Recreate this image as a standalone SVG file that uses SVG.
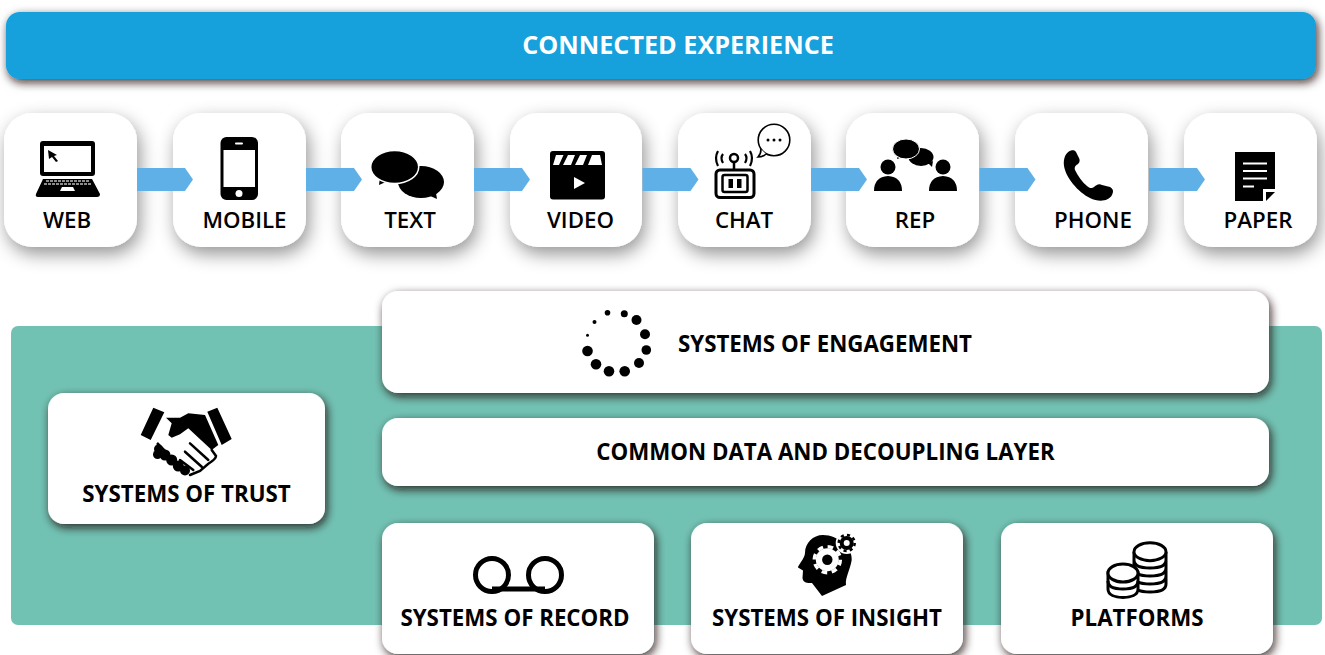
<svg xmlns="http://www.w3.org/2000/svg" width="1325" height="655" viewBox="0 0 1325 655">
<style>
text{font-family:"Open Sans","Liberation Sans",sans-serif;fill:#000;text-anchor:middle}
.c{font-size:22.300px;font-weight:600}
.b{font-size:22.300px;font-weight:700}
.card{fill:#fff;filter:url(#soft)}
.box{fill:#fff;filter:url(#hard)}
.arrow{fill:#60b0e8}
.w{fill:#fff}
.k{fill:#000}
.ln{fill:none;stroke:#000}
.wl{fill:none;stroke:#fff}
</style>
<defs>
<filter id="soft" x="-30%" y="-30%" width="160%" height="170%"><feDropShadow dx="3" dy="7" stdDeviation="9" flood-color="#000" flood-opacity=".42"/></filter>
<filter id="hard" x="-10%" y="-30%" width="120%" height="170%"><feDropShadow dx="2" dy="3.500" stdDeviation="5" flood-color="#1c1010" flood-opacity=".85"/></filter>
<polygon id="arw" points="0,0 48,0 56,11.500 48,23 0,23"/>
</defs>
<rect width="1325" height="655" fill="#fff"/>
<g id="top-bar"><rect class="box" x="6" y="12" width="1310" height="67" rx="14" style="fill:#12a1dc"/><text x="678" y="54" class="b" style="fill:#fff;font-size:25.200px">CONNECTED EXPERIENCE</text></g>
<rect id="panel" x="11" y="326" width="1311" height="299" rx="7" fill="#72c2b3"/>
<g id="web"><rect class="card" x="4" y="113" width="133" height="134" rx="28"/>
<rect class="k" x="40" y="141" width="55" height="35" rx="3"/><rect class="w" x="44" y="146" width="47" height="26"/>
<path class="k" d="M48 150l9 5-3 1 4 5-2 1-4-5-3 2z"/>
<path class="k" d="M43 179H92L100 194Q100 197 97 197H38Q35 197 36 194Z"/>
<path d="M46 181H90M44 184H91" stroke="#bbb" stroke-width="1.500" stroke-dasharray="3 1"/><path class="w" d="M62 187H73L75 191H60Z"/>
<text x="67" y="228" class="c">WEB</text></g>
<g id="mobile"><rect class="card" x="173" y="113" width="133" height="134" rx="28"/>
<rect class="k" x="220.500" y="137" width="37.500" height="63" rx="6"/><rect class="w" x="223.500" y="150" width="31.500" height="37"/><rect class="w" x="235" y="142.500" width="8" height="2" rx="1"/><circle class="w" cx="239" cy="193.500" r="3.500"/>
<text x="244.500" y="228" class="c">MOBILE</text></g>
<g id="text"><rect class="card" x="341" y="113" width="133" height="134" rx="28"/>
<ellipse class="k" cx="421" cy="182" rx="23" ry="16"/><path class="k" d="M428 195l9 4-1-6z"/>
<path class="k" d="M380 177l-1 8 9-4z"/>
<ellipse class="k" cx="394.700" cy="167" rx="24" ry="16.500" stroke="#fff" stroke-width="1.500"/>
<text x="410" y="228" class="c">TEXT</text></g>
<g id="video"><rect class="card" x="510" y="113" width="132" height="134" rx="28"/>
<rect class="k" x="550" y="151" width="55" height="48.500" rx="3"/>
<path class="w" d="M556 155H563.500L559 165H553ZM568 155H575L571 165H563ZM580 155H587L583 165H575ZM592 155H600L602 165H588Z"/>
<path class="w" d="M574 177L585 183L574 189Z"/>
<text x="580.500" y="228" class="c">VIDEO</text></g>
<g id="chat"><rect class="card" x="678" y="113" width="133" height="134" rx="28"/>
<rect class="ln" x="716" y="170" width="38" height="27.500" rx="4" stroke-width="3"/><rect class="ln" x="722.500" y="175" width="25" height="17" rx="2" stroke-width="2.500"/>
<rect class="k" x="728.500" y="179" width="4.500" height="9"/><rect class="k" x="737" y="179" width="4.500" height="9"/>
<circle class="ln" cx="734" cy="158" r="4" stroke-width="2.500"/><path class="ln" stroke-width="2.500" d="M734 162V170"/>
<path class="ln" stroke-width="2.200" d="M723 154Q720 158 723 163M718 151Q714 158 718 166M745 154Q748 158 745 163M750 151Q754 158 750 166"/>
<circle class="ln" cx="774" cy="140" r="15.800" stroke-width="1.600"/>
<path stroke="#000" stroke-width="1.600" fill="#fff" d="M761 149Q761 154 758 157Q763 157 766 154"/>
<circle class="k" cx="768" cy="140" r="1.500"/><circle class="k" cx="774" cy="140" r="1.500"/><circle class="k" cx="780" cy="140" r="1.500"/>
<text x="744" y="228" class="c">CHAT</text></g>
<g id="rep"><rect class="card" x="846" y="113" width="133" height="134" rx="28"/>
<circle class="k" cx="888" cy="167" r="7.500"/><path class="k" d="M874 191Q874 177 888 176Q902 177 902 191Z"/>
<circle class="k" cx="943" cy="167" r="7.500"/><path class="k" d="M929 191Q929 177 943 176Q957 177 957 191Z"/>
<ellipse class="k" cx="921" cy="157" rx="12.500" ry="9"/><path class="k" d="M928 163l4 4 1-6z"/><path class="k" d="M898 155l-1 4 6-2z"/>
<ellipse class="k" cx="906" cy="149" rx="13.500" ry="10" stroke="#fff" stroke-width="1"/>
<text x="915" y="228" class="c">REP</text></g>
<g id="phone"><rect class="card" x="1015" y="113" width="133" height="134" rx="28"/>
<path class="k" d="M1071 150.500C1066 152 1063 158 1064 166C1066 178 1078 192 1090 198C1098 202 1108 202 1112 195C1114 191 1113 189 1110 187L1102 185C1099 183 1096 185 1094 187C1092 189 1089 188 1087 186C1082 182 1078 176 1075 170C1074 167 1076 165 1078 164C1080 162 1080 160 1079 158L1076 152C1075 150 1073 150 1071 150.500Z"/>
<text x="1093" y="228" class="c">PHONE</text></g>
<g id="paper"><rect class="card" x="1184" y="113" width="133" height="134" rx="28"/>
<path class="k" d="M1235 152H1275V189H1263V201H1235Z"/><path class="k" d="M1266 192H1275L1266 201Z"/>
<path class="wl" stroke-width="2" d="M1243 163.500H1267M1243 171H1267M1243 178.500H1267M1243 186.500H1254"/>
<text x="1258" y="228" class="c">PAPER</text></g>
<g id="connectors" class="arrow">
<use href="#arw" x="137" y="168"/><use href="#arw" x="306" y="168"/><use href="#arw" x="474" y="168"/><use href="#arw" x="642.500" y="168"/><use href="#arw" x="811" y="168"/><use href="#arw" x="979.500" y="168"/><use href="#arw" x="1149" y="168"/>
</g>
<g id="engagement"><rect class="box" x="382" y="291" width="887" height="102" rx="16"/>
<g class="k"><circle cx="587.500" cy="335.300" r="1.500"/><circle cx="594.500" cy="322" r="2"/><circle cx="607.500" cy="312.700" r="2.800"/><circle cx="624.300" cy="313.700" r="3.500"/><circle cx="636.500" cy="320" r="5"/><circle cx="645" cy="334.300" r="5"/><circle cx="646.300" cy="350" r="4.800"/><circle cx="639" cy="363" r="5"/><circle cx="624.700" cy="371.300" r="5.300"/><circle cx="609" cy="371.300" r="5.300"/><circle cx="596" cy="364.300" r="5.300"/><circle cx="587.500" cy="351" r="5.300"/></g>
<text x="825" y="351.500" class="b">SYSTEMS OF ENGAGEMENT</text></g>
<g id="common-data"><rect class="box" x="382" y="418" width="887" height="68" rx="16"/>
<text x="825.500" y="459.500" class="b">COMMON DATA AND DECOUPLING LAYER</text></g>
<g id="trust"><rect class="box" x="48" y="393" width="277" height="131" rx="16"/>
<path class="k" d="M153.300 407.700L164.300 412.300L150.700 440L140.700 435ZM217.300 407.700L207.300 411.700L221.700 445L231.700 439Z"/>
<path class="k" d="M166 417.700H180L188.300 413.300L205 415L218.300 445L211.700 450L188.300 428.300L180 434.300L171.700 437.700L168.300 435L171.700 423.300Z"/>
<path class="ln" stroke-width="2.500" stroke-linecap="round" d="M211.700 450L216 456Q216 459 208 464L200 471L190 475M190 443.300L208.300 460M185 451.700L201.700 466.700M180 460L193.300 470"/>
<path class="ln" stroke-width="2.500" d="M157 443L166 452"/>
<g class="k"><circle cx="158.500" cy="449" r="4.500"/><circle cx="157.500" cy="454.500" r="4.500"/><circle cx="165" cy="455" r="5.500"/><circle cx="171.700" cy="460" r="5.500"/><circle cx="178.300" cy="466" r="5.500"/><circle cx="185" cy="470.500" r="5"/></g>
<text x="186.500" y="501.500" class="b">SYSTEMS OF TRUST</text></g>
<g id="record"><rect class="box" x="382" y="523" width="272" height="131" rx="16"/>
<circle class="ln" cx="492" cy="575" r="16.500" stroke-width="5"/><circle class="ln" cx="545" cy="575" r="16.500" stroke-width="5"/><path class="ln" stroke-width="5" d="M492 589H545"/>
<text x="515" y="625.500" class="b">SYSTEMS OF RECORD</text></g>
<g id="insight"><rect class="box" x="691" y="523" width="272" height="131" rx="16"/>
<path class="k" d="M823 535C813 535 805 543 805 553C805 558 798 565 798 567.500L803 570.500L802.500 578C803 582.500 807 583.500 812 583L822 596L846 585C845 578 850 570 851.700 560C853 548 838 535 823 535Z"/>
<circle cx="827.300" cy="559.700" r="11.500" fill="#fff"/><circle cx="827.300" cy="559.700" r="13" fill="none" stroke="#fff" stroke-width="3.500" stroke-dasharray="5.600 4.600"/><circle cx="827.300" cy="559.700" r="5.200" fill="#000"/>
<circle cx="846.700" cy="543" r="11" fill="#fff"/><circle cx="846.700" cy="543" r="5" fill="none" stroke="#000" stroke-width="4"/><circle cx="846.700" cy="543" r="8" fill="none" stroke="#000" stroke-width="2.500" stroke-dasharray="3.140 3.140"/>
<text x="827" y="625.500" class="b">SYSTEMS OF INSIGHT</text></g>
<g id="platforms"><rect class="box" x="1001" y="523" width="272" height="131" rx="16"/>
<path class="ln" stroke-width="3" d="M1134 552V584C1134 590 1142 592 1150 592C1158 592 1166 590 1166 584V552M1134 560C1134 566 1142 568 1150 568C1158 568 1166 566 1166 560M1134 568C1134 574 1142 576 1150 576C1158 576 1166 574 1166 568M1134 576C1134 582 1142 584 1150 584C1158 584 1166 582 1166 576"/>
<ellipse class="ln" cx="1150" cy="551.700" rx="16" ry="9" stroke-width="3" style="fill:#fff"/>
<path d="M1108 573V589C1108 595 1115 597.500 1123 597.500C1131 597.500 1138 595 1138 589V573Z" fill="#fff" stroke="#000" stroke-width="3"/>
<path class="ln" stroke-width="3" d="M1108 581C1108 587 1115 589 1123 589C1131 589 1138 587 1138 581"/>
<ellipse cx="1123" cy="573" rx="15" ry="9" fill="#fff" stroke="#000" stroke-width="3"/>
<text x="1137" y="625.500" class="b">PLATFORMS</text></g>
</svg>
